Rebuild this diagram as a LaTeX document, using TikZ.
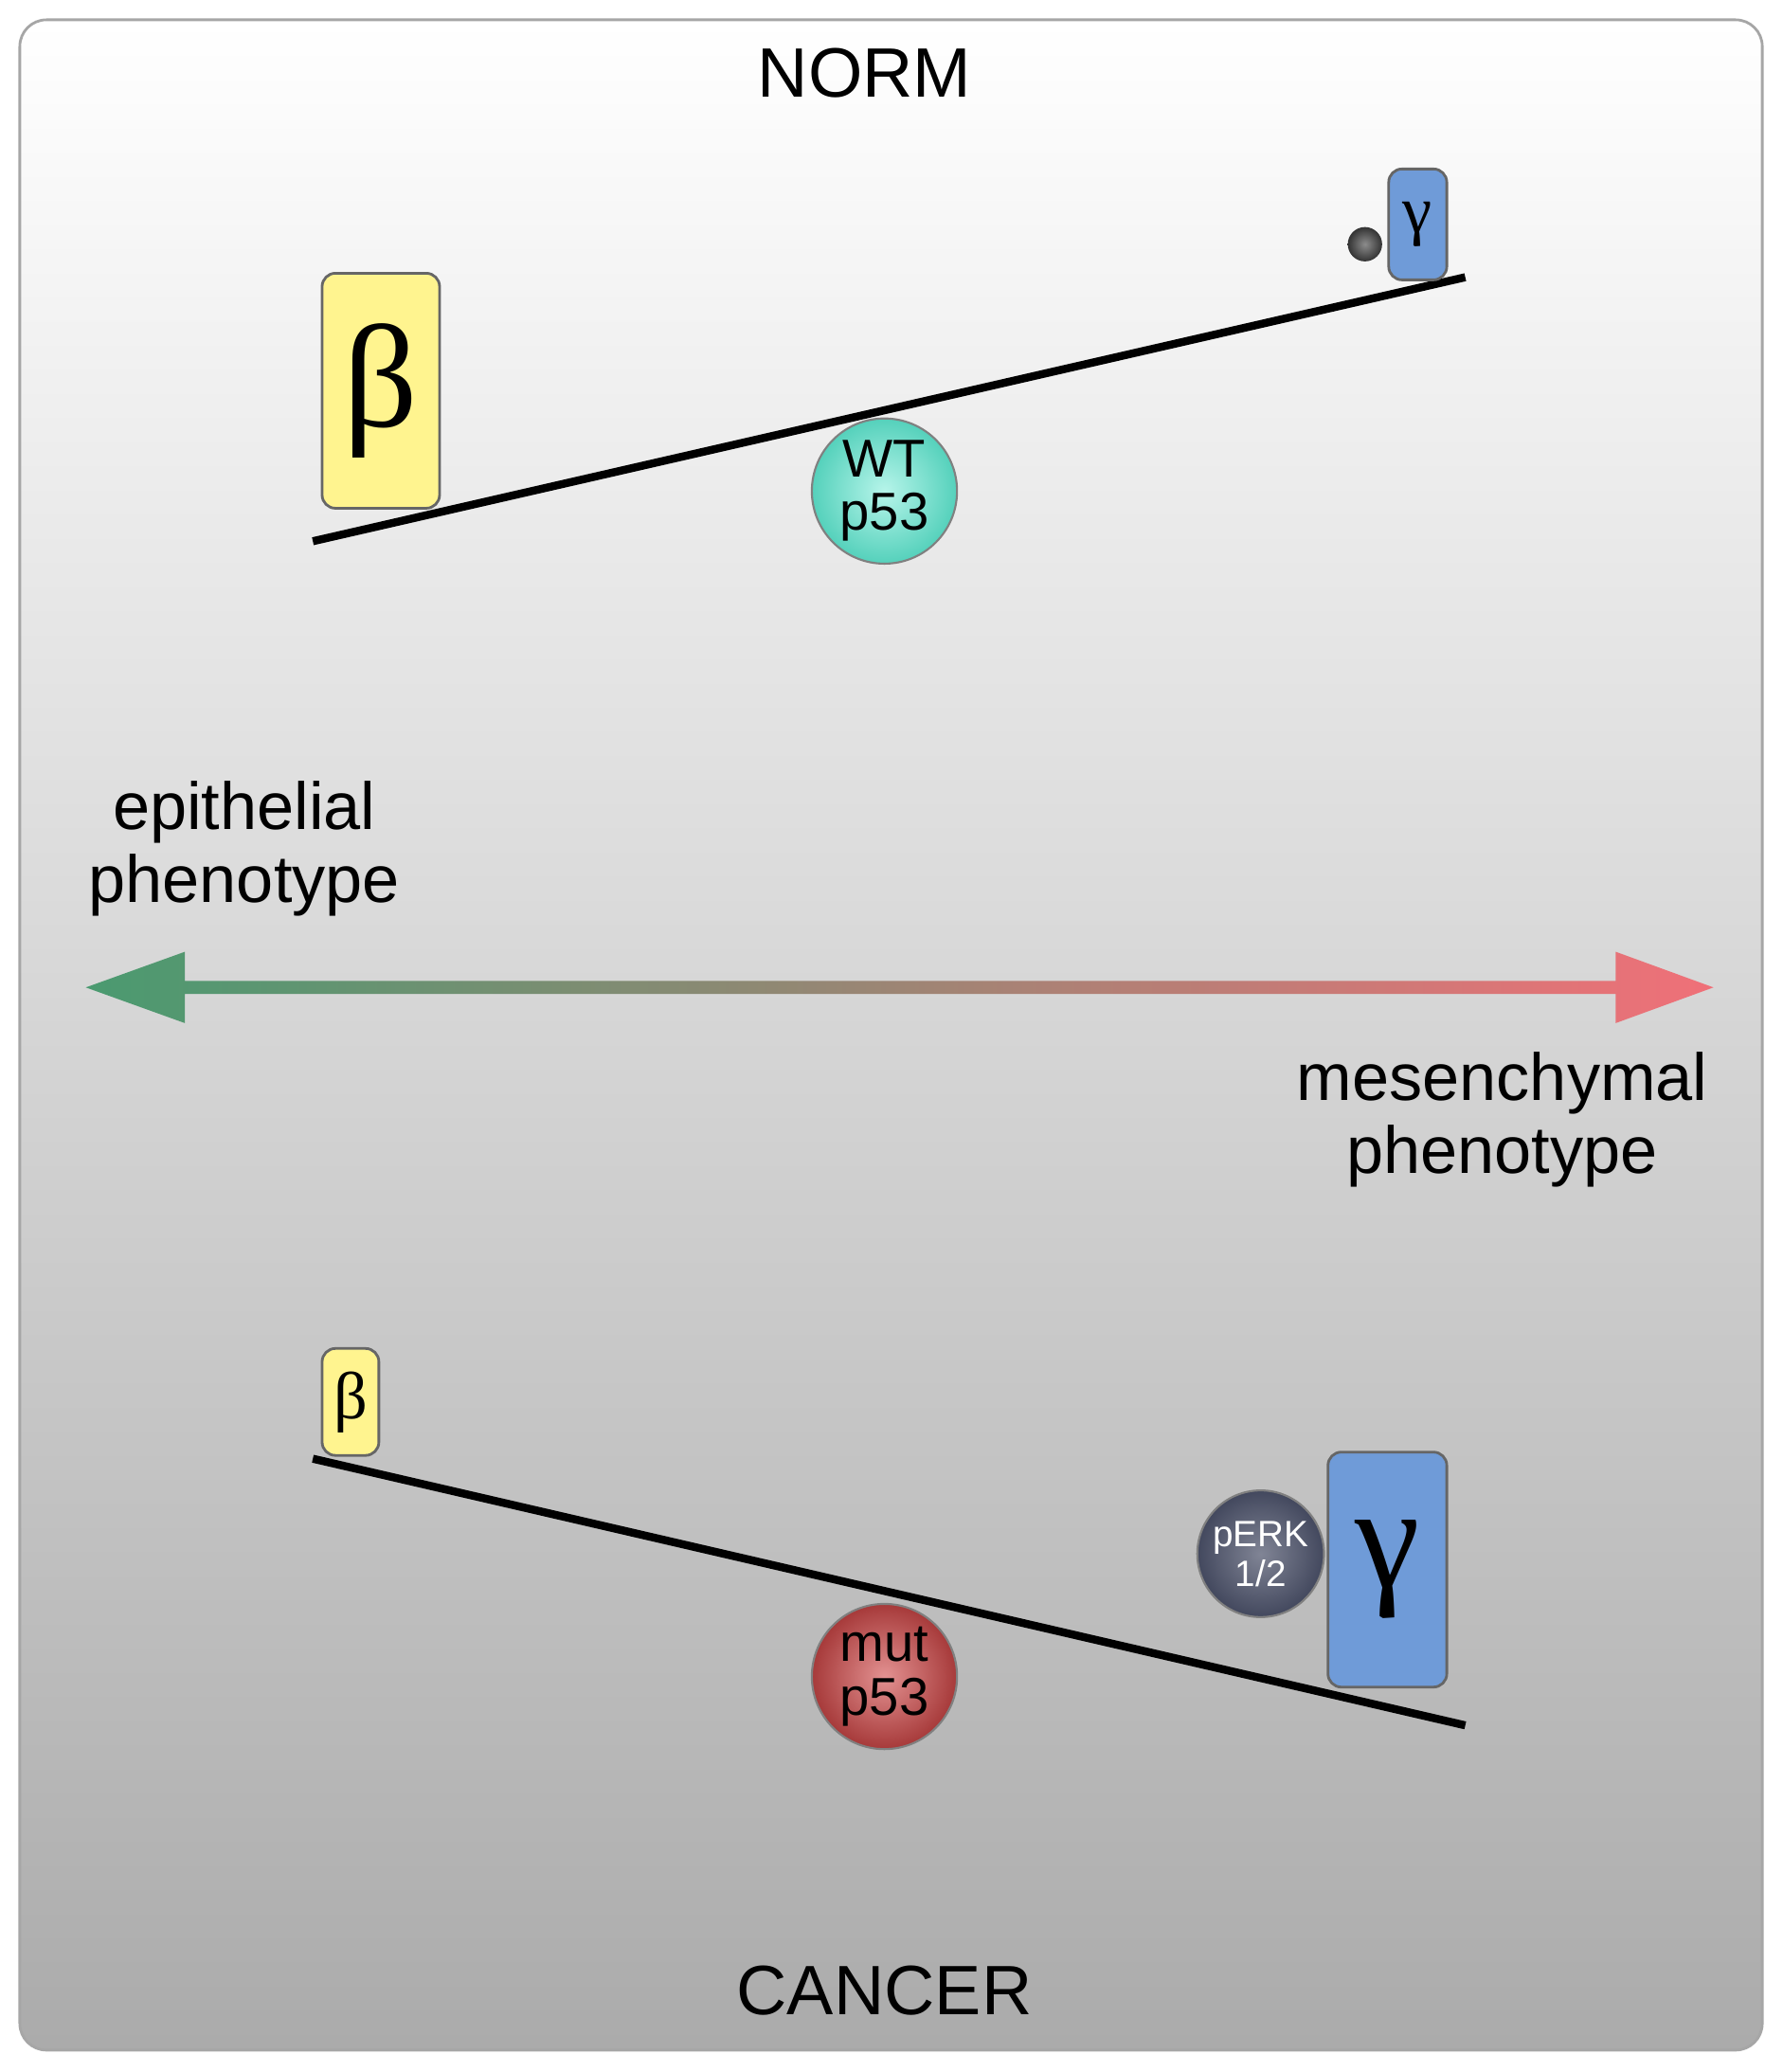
\documentclass[tikz,border=0pt]{standalone}
\usepackage{fontspec}
\setmainfont{Liberation Sans}
\newfontfamily\grk{Liberation Serif}
\usetikzlibrary{shadings}
\definecolor{ybox}{HTML}{FFF48F}
\definecolor{bbox}{HTML}{6F9BD8}
\definecolor{turq}{HTML}{5EE8D0}
\definecolor{redc}{HTML}{D04848}
\definecolor{slate}{HTML}{4A5068}
\definecolor{agreen}{HTML}{4A9A70}
\definecolor{apink}{HTML}{F07078}
\begin{document}
\begin{tikzpicture}[x=0.013933cm,y=-0.013933cm,
  box/.style={draw=black!60,line width=0.8pt,rounded corners=4pt,inner sep=0pt},
  ball/.style={circle,draw=black!50,line width=0.6pt,inner sep=0pt,align=center,font=\fontsize{16}{16}\selectfont},
  lever/.style={line width=2.4pt},
  lab/.style={font=\fontsize{20}{22}\selectfont,align=center}]
\useasboundingbox (0,0) rectangle (1350,1569.6);
\shade[top color=white,bottom color=black!33,draw=black!35,line width=0.8pt,rounded corners=8pt] (15,15) rectangle (1335,1553);
\node[font=\fontsize{21}{21}\selectfont] (norm) at (655,55) {NORM};
\node[font=\fontsize{21}{21}\selectfont] (cancer) at (670,1508) {CANCER};
% top lever
\coordinate (tl) at (237,410); \coordinate (tr) at (1110,210);
\node[ball,inner color=turq!45,outer color=turq!90!black,minimum size=110*0.013933cm] (wt) at (670,372) {WT\\p53};
\draw[lever] (tl) -- (tr);
\node[box,fill=ybox,minimum width=89*0.013933cm,minimum height=178*0.013933cm] (b1) at (288.5,296) {\grk\fontsize{44}{44}\selectfont β};
\node[box,fill=bbox,minimum width=44*0.013933cm,minimum height=84*0.013933cm] (g1) at (1074,170) {\grk\fontsize{20}{20}\selectfont γ};
\node[circle,inner sep=0pt,minimum size=26*0.013933cm,inner color=black!45,outer color=black!80] (dot) at (1034,185) {};
% arrow
\node[lab] (epi) at (185,643) {epithelial\\phenotype};
\node[lab] (mes) at (1138,848) {mesenchymal\\phenotype};
\coordinate (al) at (65,748); \coordinate (ar) at (1298,748);
\shade[left color=agreen,right color=apink] (al) -- (140,721) -- (140,743) -- (1224,743) -- (1224,721) -- (ar) -- (1224,775) -- (1224,753) -- (140,753) -- (140,775) -- cycle;
% bottom lever
\coordinate (bl) at (237,1105); \coordinate (br) at (1110,1307);
\node[ball,inner color=redc!60,outer color=redc!80!black,minimum size=110*0.013933cm] (mut) at (670,1270) {mut\\p53};
\draw[lever] (bl) -- (br);
\node[box,fill=ybox,minimum width=43*0.013933cm,minimum height=81*0.013933cm] (b2) at (265.5,1062) {\grk\fontsize{20}{20}\selectfont β};
\node[box,fill=bbox,minimum width=90*0.013933cm,minimum height=178*0.013933cm] (g2) at (1051,1189) {\grk\fontsize{44}{44}\selectfont γ};
\node[ball,inner color=slate!70,outer color=slate!90!black,text=white,minimum size=96*0.013933cm,font=\fontsize{11}{12}\selectfont] (perk) at (955,1177) {pERK\\1/2};
\end{tikzpicture}
\end{document}
